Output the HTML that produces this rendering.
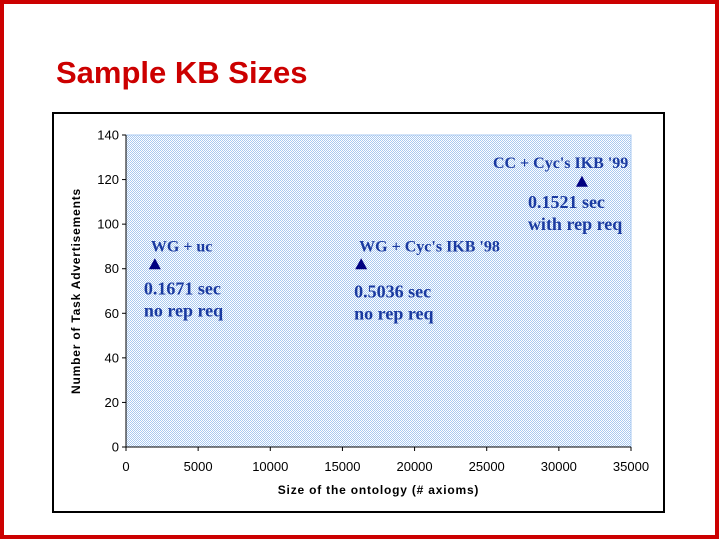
<!DOCTYPE html>
<html><head><meta charset="utf-8"><style>
body{margin:0;width:719px;height:539px;overflow:hidden;background:#fff;font-family:"Liberation Sans",sans-serif}
</style></head><body>
<svg width="719" height="539" xmlns="http://www.w3.org/2000/svg">
<defs><pattern id="chk" width="2" height="2" patternUnits="userSpaceOnUse"><rect width="2" height="2" fill="#fff"/><rect width="1" height="1" fill="#a9c9f0"/><rect x="1" y="1" width="1" height="1" fill="#a9c9f0"/></pattern></defs>
<rect x="2" y="2" width="715" height="535" fill="none" stroke="#cc0000" stroke-width="4"/>
<text x="56" y="83" font-size="31" font-weight="bold" fill="#cc0000">Sample KB Sizes</text>
<rect x="53" y="113" width="611" height="399" fill="none" stroke="#000" stroke-width="2"/>
<g id="chart"></g>
</svg>
<script>
const xTicks=[0,5000,10000,15000,20000,25000,30000,35000];
const yTicks=[0,20,40,60,80,100,120,140];
const xVals=[2000,16300,31600];
const yVals=[82,82,119];
const labels=[["WG + uc","0.1671 sec","no rep req"],["WG + Cyc's IKB '98","0.5036 sec","no rep req"],["CC + Cyc's IKB '99","0.1521 sec","with rep req"]];
const X0=126,X1=631,Y0=447,Y1=135;
const sx=v=>X0+v/35000*(X1-X0), sy=v=>Y0-v/140*(Y0-Y1);
const NS="http://www.w3.org/2000/svg", g=document.getElementById('chart');
function mk(t,a,txt){const e=document.createElementNS(NS,t);for(const k in a)e.setAttribute(k,a[k]);if(txt!==undefined)e.textContent=txt;g.appendChild(e);return e;}
let e=mk('rect',{x:X0,y:Y1,width:X1-X0,height:Y0-Y1,fill:'url(#chk)',stroke:'#a9c9f0'});


e=mk('line',{x1:X0,y1:Y1,x2:X0,y2:Y0,stroke:'#000'});


e=mk('line',{x1:X0,y1:Y0,x2:X1,y2:Y0,stroke:'#000'});


yTicks.forEach(v=>{mk('line',{x1:X0-4,x2:X0,y1:sy(v),y2:sy(v),stroke:'#000'});
 e=mk('text',{x:X0-7,y:sy(v)+4.5,'font-size':13,'text-anchor':'end'},v);
 
 });
xTicks.forEach(v=>{mk('line',{x1:sx(v),x2:sx(v),y1:Y0,y2:Y0+4,stroke:'#000'});
 e=mk('text',{x:sx(v),y:Y0+24,'font-size':13,'text-anchor':'middle'},v);
 
 });
e=mk('text',{x:(X0+X1)/2,y:494,'font-size':12,'font-weight':'bold','text-anchor':'middle','letter-spacing':'0.8'},'Size of the ontology (# axioms)');


e=mk('text',{x:0,y:0,'font-size':12,'font-weight':'bold','text-anchor':'middle','letter-spacing':'0.8',transform:`translate(80,${(Y0+Y1)/2}) rotate(-90)`},'Number of Task Advertisements');


const lo=[[[-4,-13],[-11,30],[-11,52]],[[-2,-13],[-7,33],[-7,55]],[[-89,-14],[-54,26],[-54,48]]];
xVals.forEach((v,i)=>{const x=sx(v),y=sy(yVals[i]);
 e=mk('polygon',{points:`${x},${y-6} ${x-6},${y+5} ${x+6},${y+5}`,fill:'#000080'});
 
 
 labels[i].forEach((t,j)=>{e=mk('text',{x:x+lo[i][j][0],y:y+lo[i][j][1],'font-size':j?18:16,'font-family':'Liberation Serif, serif','font-weight':'bold',fill:'#1a3aa0'},t);
  
  });});
</script>
</body></html>
